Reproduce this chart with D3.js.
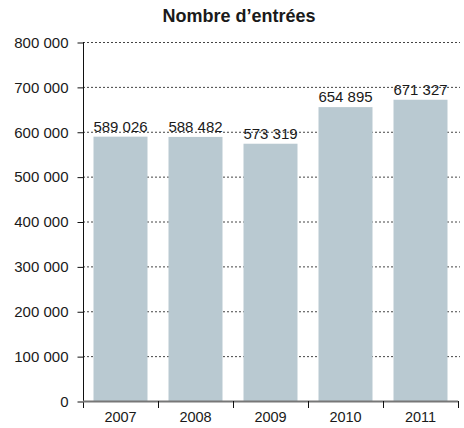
<!DOCTYPE html>
<html><head><meta charset="utf-8">
<script src="https://cdn.jsdelivr.net/npm/d3@7"></script>
<style>body{margin:0;background:#fff}svg{display:block;font-family:"Liberation Sans",Arial,sans-serif}</style>
</head><body><svg id="c" width="464" height="428"></svg>
<script>
const years = ["2007","2008","2009","2010","2011"];
const entrees = [589026, 588482, 573319, 654895, 671327];
const yTicks = [0,100000,200000,300000,400000,500000,600000,700000,800000];
const title = "Nombre d’entrées";

const svg = d3.select("#c");
const mLeft = 83, mRight = 458, mTop = 42, mBottom = 401;
const x = d3.scaleBand().domain(years).range([mLeft, mRight]).paddingInner(0.28).paddingOuter(0.14);
const y = d3.scaleLinear().domain([0, 800000]).range([mBottom, mTop]);
const fmt = v => d3.format(",")(v).replace(/,/g, " ");

svg.append("text").attr("x", 239).attr("y", 22).attr("text-anchor","middle")
  .attr("font-size", 18).attr("font-weight","bold").attr("fill","#1a1a1a").text(title);

// grid
svg.append("g").selectAll("line").data(yTicks.filter(d=>d>0)).join("line")
  .attr("x1", mLeft).attr("x2", 460).attr("y1", d=>y(d)+0.5).attr("y2", d=>y(d)+0.5)
  .attr("stroke","#444").attr("stroke-width",1).attr("stroke-dasharray","2,2");

// bars
svg.append("g").selectAll("rect").data(entrees).join("rect")
  .attr("x",(d,i)=>x(years[i])).attr("width",x.bandwidth())
  .attr("y",d=>y(d)).attr("height",d=>mBottom-y(d)).attr("fill","#b9c9d1");

// value labels
svg.append("g").selectAll("text").data(entrees).join("text")
  .attr("x",(d,i)=>x(years[i])+x.bandwidth()/2).attr("y",d=>y(d)-5)
  .attr("text-anchor","middle").attr("font-size",15).attr("fill","#1a1a1a").text(d=>fmt(d));

// y axis
const ya = d3.axisLeft(y).tickValues(yTicks).tickSize(6).tickPadding(9).tickFormat(fmt);
const yg = svg.append("g").attr("transform",`translate(${mLeft+0.5},0.5)`).call(ya);
yg.select(".domain").remove();
yg.selectAll("line").attr("stroke","#111");
yg.selectAll("text").attr("font-size",15).attr("fill","#1a1a1a").attr("font-family","Liberation Sans, Arial, sans-serif");
svg.append("line").attr("x1",mLeft+0.5).attr("x2",mLeft+0.5).attr("y1",mTop).attr("y2",408).attr("stroke","#111");

// x axis
svg.append("line").attr("x1",mLeft).attr("x2",mRight).attr("y1",mBottom+0.5).attr("y2",mBottom+0.5)
  .attr("stroke","#777").attr("stroke-width",2);
const xa = d3.axisBottom(x).tickSize(0).tickPadding(11);
const xg = svg.append("g").attr("transform",`translate(0,${mBottom})`).call(xa);
xg.select(".domain").remove();
xg.selectAll("text").attr("font-size",14.5).attr("fill","#1a1a1a").attr("font-family","Liberation Sans, Arial, sans-serif");
const bx = d => x(d) - x.step()*x.paddingInner()/2 + x.step();
svg.append("g").selectAll("line").data(years).join("line")
  .attr("x1",d=>Math.round(bx(d))+0.5).attr("x2",d=>Math.round(bx(d))+0.5)
  .attr("y1",mBottom).attr("y2",408).attr("stroke","#111");
</script></body></html>
